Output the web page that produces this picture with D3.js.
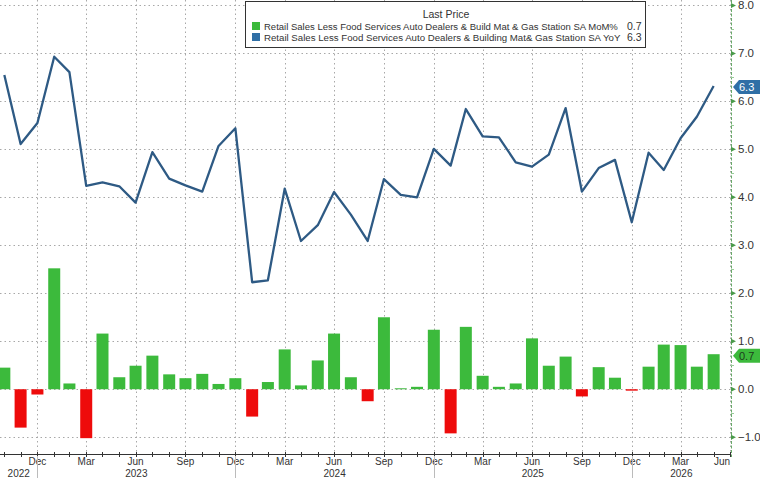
<!DOCTYPE html>
<html>
<head>
<meta charset="utf-8">
<script src="https://cdn.jsdelivr.net/npm/d3@7"></script>
<style>
  body { margin: 0; background: #fff; }
  svg { display: block; font-family: "Liberation Sans", Arial, sans-serif; }
</style>
</head>
<body>
<div id="chart"></div>
<script>
// monthly observations (plotted at month end)
const months = [
  "2022-10","2022-11","2022-12","2023-01","2023-02","2023-03","2023-04","2023-05","2023-06","2023-07","2023-08","2023-09",
  "2023-10","2023-11","2023-12","2024-01","2024-02","2024-03","2024-04","2024-05","2024-06","2024-07","2024-08","2024-09",
  "2024-10","2024-11","2024-12","2025-01","2025-02","2025-03","2025-04","2025-05","2025-06","2025-07","2025-08","2025-09",
  "2025-10","2025-11","2025-12","2026-01","2026-02","2026-03","2026-04","2026-05"
];
const momValues = [
  0.45, -0.80, -0.11, 2.52, 0.12, -1.02, 1.16, 0.25, 0.49, 0.70, 0.31, 0.23,
  0.32, 0.11, 0.23, -0.57, 0.15, 0.83, 0.08, 0.60, 1.16, 0.25, -0.25, 1.50,
  0.02, 0.05, 1.24, -0.92, 1.30, 0.28, 0.05, 0.12, 1.06, 0.49, 0.68, -0.15,
  0.46, 0.24, -0.03, 0.47, 0.93, 0.92, 0.47, 0.73
];
const yoyValues = [
  6.55, 5.11, 5.55, 6.93, 6.61, 4.24, 4.31, 4.23, 3.89, 4.94, 4.39, 4.25,
  4.12, 5.07, 5.44, 2.23, 2.27, 4.18, 3.09, 3.42, 4.11, 3.64, 3.09, 4.38,
  4.05, 4.00, 5.01, 4.66, 5.84, 5.27, 5.25, 4.73, 4.64, 4.89, 5.86, 4.12,
  4.61, 4.78, 3.48, 4.93, 4.57, 5.23, 5.68, 6.32
];
const quarterTicks = ["2022-12","2023-03","2023-06","2023-09","2023-12","2024-03","2024-06","2024-09",
  "2024-12","2025-03","2025-06","2025-09","2025-12","2026-03","2026-06"];
const yearLabels = ["2022","2023","2024","2025","2026"];
const yTicks = [-1, 0, 1, 2, 3, 4, 5, 6, 7, 8];
const seriesNames = [
  "Retail Sales Less Food Services Auto Dealers & Build Mat & Gas Station SA MoM%",
  "Retail Sales Less Food Services Auto Dealers & Building Mat& Gas Station SA YoY"
];
const lastMom = "0.7", lastYoy = "6.3";

const width = 760, height = 478;
const plotRight = 731, plotBottom = 454;
const green = "#3cba3c", red = "#ee0b0b", blue = "#2e5a84";

// month key -> end-of-month date
const monthEnd = k => {
  const [yy, mm] = k.split("-").map(Number);
  return new Date(yy, mm, 1);
};

const data = months.map((m, i) => ({ date: monthEnd(m), mom: momValues[i], yoy: yoyValues[i] }));

const x = d3.scaleTime()
  .domain([new Date(2022, 9, 24), new Date(2026, 6, 3)])
  .range([0, plotRight]);
const y = d3.scaleLinear()
  .domain([-1.35, 8.05])
  .range([plotBottom, 3]);

const svg = d3.select("#chart").append("svg")
  .attr("width", width)
  .attr("height", height);

svg.append("defs").append("clipPath").attr("id", "plot-clip")
  .append("rect").attr("x", 0).attr("y", 0).attr("width", plotRight).attr("height", plotBottom);

// grid
const grid = svg.append("g").attr("stroke", "#a8a8a8").attr("stroke-width", 1).attr("stroke-dasharray", "1.5,3");
grid.selectAll(".hg").data(yTicks).enter().append("line")
  .attr("x1", 0).attr("x2", plotRight)
  .attr("y1", d => Math.round(y(d)) + 0.5).attr("y2", d => Math.round(y(d)) + 0.5);
grid.selectAll(".vg").data(quarterTicks).enter().append("line")
  .attr("x1", d => Math.round(x(monthEnd(d))) + 0.5).attr("x2", d => Math.round(x(monthEnd(d))) + 0.5)
  .attr("y1", 0).attr("y2", plotBottom);

const plot = svg.append("g").attr("clip-path", "url(#plot-clip)");

// bars
const barW = 12;
plot.selectAll(".bar").data(data).enter().append("rect")
  .attr("x", d => x(d.date) - barW / 2)
  .attr("width", barW)
  .attr("y", d => y(Math.max(0, d.mom)))
  .attr("height", d => Math.max(1, Math.abs(y(d.mom) - y(0))))
  .attr("fill", d => d.mom >= 0 ? green : red);

// line
const line = d3.line().x(d => x(d.date)).y(d => y(d.yoy));
plot.append("path").datum(data)
  .attr("d", line)
  .attr("fill", "none")
  .attr("stroke", blue)
  .attr("stroke-width", 2.3)
  .attr("stroke-linejoin", "round");

// bottom axis
svg.append("line")
  .attr("x1", 0).attr("x2", plotRight)
  .attr("y1", plotBottom + 0.5).attr("y2", plotBottom + 0.5)
  .attr("stroke", "#333");
const minorTicks = d3.timeMonth.range(x.domain()[0], x.domain()[1]);
svg.selectAll(".mt").data(minorTicks).enter().append("line")
  .attr("x1", d => Math.round(x(d)) + 0.5).attr("x2", d => Math.round(x(d)) + 0.5)
  .attr("y1", plotBottom - 2).attr("y2", plotBottom + 3)
  .attr("stroke", "#333");

svg.selectAll(".ml").data(quarterTicks).enter().append("text")
  .attr("x", d => Math.min(x(monthEnd(d)), plotRight - 9))
  .attr("y", 465)
  .attr("text-anchor", "middle")
  .attr("font-size", "10px")
  .attr("fill", "#333")
  .text(d => d3.timeFormat("%b")(new Date(+d.slice(0, 4), +d.slice(5) - 1, 1)));

const [d0, d1] = x.domain();
svg.selectAll(".yl").data(yearLabels).enter().append("text")
  .attr("x", d => {
    const a = new Date(+d, 0, 1) < d0 ? d0 : new Date(+d, 0, 1);
    const b = new Date(+d + 1, 0, 1) > d1 ? x.invert(plotRight) : new Date(+d + 1, 0, 1);
    return (x(a) + x(b)) / 2;
  })
  .attr("y", 477)
  .attr("text-anchor", "middle")
  .attr("font-size", "10px")
  .attr("fill", "#333")
  .text(d => d);

svg.selectAll(".ys").data(yearLabels.slice(1)).enter().append("line")
  .attr("x1", d => Math.round(x(new Date(+d, 0, 1))) + 0.5)
  .attr("x2", d => Math.round(x(new Date(+d, 0, 1))) + 0.5)
  .attr("y1", plotBottom + 2).attr("y2", height)
  .attr("stroke", "#bbb");

// right axis
const axisG = svg.append("g").attr("transform", `translate(${plotRight},0)`);
axisG.append("line")
  .attr("x1", 0.5).attr("x2", 0.5).attr("y1", 0).attr("y2", plotBottom + 3)
  .attr("stroke", "#6aaa6a").attr("stroke-dasharray", "3,1.5");
const halfTicks = yTicks.slice(1).map(v => v - 0.5);
axisG.selectAll(".ht").data(halfTicks).enter().append("line")
  .attr("x1", 0).attr("x2", 3)
  .attr("y1", d => Math.round(y(d)) + 0.5)
  .attr("y2", d => Math.round(y(d)) + 0.5)
  .attr("stroke", "#9c9");
axisG.selectAll(".tk").data(yTicks).enter().append("path")
  .attr("d", d => `M0,${y(d) - 2.5}L5,${y(d)}L0,${y(d) + 2.5}Z`)
  .attr("fill", "#4a9a4a");
axisG.selectAll(".tl").data(yTicks).enter().append("text")
  .attr("x", 7)
  .attr("y", d => y(d) + 4)
  .attr("font-size", "11.5px")
  .attr("fill", "#333")
  .text(d => d3.format(".1f")(d));

// last value tags
function tag(val, fill, textFill) {
  const yy = y(+val);
  const g = svg.append("g").attr("transform", `translate(${plotRight + 2},${yy})`);
  g.append("path")
    .attr("d", "M0,0L6,-7H40V7H6Z")
    .attr("fill", fill);
  g.append("text")
    .attr("x", 6).attr("y", 4)
    .attr("font-size", "11px")
    .attr("fill", textFill)
    .text(val);
}
tag(lastYoy, "#2f6fa6", "#fff");
tag(lastMom, green, "#1d3d1d");

// legend
const lg = svg.append("g");
lg.append("rect")
  .attr("x", 245.5).attr("y", 1.5).attr("width", 400).attr("height", 46)
  .attr("fill", "#fff").attr("stroke", "#333");
lg.append("text")
  .attr("x", 446).attr("y", 18)
  .attr("text-anchor", "middle")
  .attr("font-size", "10.5px")
  .attr("fill", "#333")
  .text("Last Price");
const legendRows = [
  { name: seriesNames[0], value: lastMom, color: green, len: 354 },
  { name: seriesNames[1], value: lastYoy, color: "#2f6fa6", len: 357 }
];
legendRows.forEach((r, i) => {
  const yy = 30 + i * 11;
  lg.append("rect").attr("x", 252).attr("y", yy - 8).attr("width", 8).attr("height", 8).attr("fill", r.color);
  const t = lg.append("text")
    .attr("x", 264).attr("y", yy)
    .attr("font-size", "10.5px")
    .attr("fill", "#333")
    .text(r.name);
  // shrink the font so the label fits before the value
  const natural = t.node().getComputedTextLength();
  if (natural > r.len) t.attr("font-size", (10.5 * r.len / natural).toFixed(2) + "px");
  lg.append("text")
    .attr("x", 627).attr("y", yy)
    .attr("font-size", "10.5px")
    .attr("fill", "#333")
    .text(r.value);
});
</script>
</body>
</html>
